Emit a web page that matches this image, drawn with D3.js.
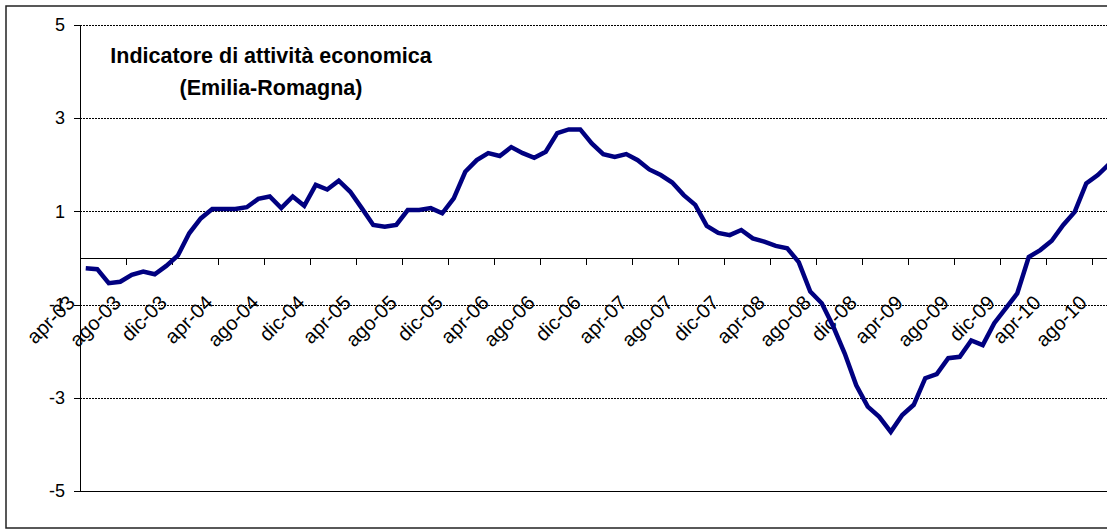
<!DOCTYPE html>
<html lang="it">
<head>
<meta charset="utf-8">
<title>Indicatore di attività economica</title>
<style>
body{
  margin: 0;
  background: #fff;
}
svg text{
  font-family: "Liberation Sans", Arial, sans-serif;
  fill: #000;
}
.grid line{
  stroke: #000;
  stroke-width: 1;
  stroke-dasharray: 2,1;
  shape-rendering: crispEdges;
}
.axis path, .axis line{
  fill: none;
  stroke: #000;
  shape-rendering: crispEdges;
}
</style>
</head>
<body>
<div id="chart"></div>
<script src="https://d3js.org/d3.v7.min.js"></script>
<script>

// monthly categories, apr-03 .. set-10
const categories = [
  "apr-03","mag-03","giu-03","lug-03","ago-03","set-03","ott-03","nov-03","dic-03",
  "gen-04","feb-04","mar-04","apr-04","mag-04","giu-04","lug-04","ago-04","set-04","ott-04","nov-04","dic-04",
  "gen-05","feb-05","mar-05","apr-05","mag-05","giu-05","lug-05","ago-05","set-05","ott-05","nov-05","dic-05",
  "gen-06","feb-06","mar-06","apr-06","mag-06","giu-06","lug-06","ago-06","set-06","ott-06","nov-06","dic-06",
  "gen-07","feb-07","mar-07","apr-07","mag-07","giu-07","lug-07","ago-07","set-07","ott-07","nov-07","dic-07",
  "gen-08","feb-08","mar-08","apr-08","mag-08","giu-08","lug-08","ago-08","set-08","ott-08","nov-08","dic-08",
  "gen-09","feb-09","mar-09","apr-09","mag-09","giu-09","lug-09","ago-09","set-09","ott-09","nov-09","dic-09",
  "gen-10","feb-10","mar-10","apr-10","mag-10","giu-10","lug-10","ago-10","set-10"
];

const values = [
  -0.22,-0.24,-0.54,-0.51,-0.36,-0.29,-0.35,-0.17,0.05,
  0.53,0.85,1.05,1.05,1.05,1.09,1.27,1.32,1.07,1.32,1.12,1.57,
  1.47,1.66,1.42,1.07,0.71,0.67,0.71,1.03,1.03,1.07,0.96,1.28,
  1.85,2.10,2.25,2.19,2.38,2.25,2.15,2.28,2.68,2.76,2.76,2.46,
  2.23,2.17,2.23,2.10,1.90,1.78,1.62,1.35,1.14,0.69,0.54,0.49,
  0.60,0.42,0.35,0.26,0.21,-0.09,-0.72,-0.97,-1.47,-2.05,-2.73,-3.19,
  -3.41,-3.73,-3.37,-3.15,-2.58,-2.49,-2.15,-2.12,-1.77,-1.87,-1.40,-1.08,
  -0.76,0.02,0.17,0.37,0.71,0.99,1.60,1.78,2.02
];

const yTicks = [-5, -3, -1, 1, 3, 5];
const gridTicks = [-3, -1, 1, 3, 5];
const tickCats = categories.filter((d, i) => i % 4 === 0);

const width = 1107;
const height = 529;
const plot = { left: 80, top: 25, bottom: 491, step: 11.5 };

const svg = d3.select('#chart')
  .append('svg')
  .attr('width', width)
  .attr('height', height);

// outer frame (runs off the right edge like the original)
svg.append('rect')
  .attr('x', 6)
  .attr('y', 6)
  .attr('width', 1200)
  .attr('height', 522)
  .attr('fill', 'none')
  .attr('stroke', '#222')
  .attr('stroke-width', 1.5);

const x = d3.scaleBand()
  .domain(categories)
  .range([plot.left, plot.left + categories.length * plot.step])
  .padding(0);

const y = d3.scaleLinear()
  .domain([-5, 5])
  .range([plot.bottom, plot.top]);

// gridlines
svg.append('g')
  .attr('class', 'grid')
  .selectAll('line')
  .data(gridTicks)
  .join('line')
  .attr('x1', plot.left)
  .attr('x2', width)
  .attr('y1', d => Math.round(y(d)) + 0.5)
  .attr('y2', d => Math.round(y(d)) + 0.5);

// bottom edge of plot at -5
svg.append('line')
  .attr('x1', plot.left)
  .attr('x2', width)
  .attr('y1', Math.round(y(-5)) + 0.5)
  .attr('y2', Math.round(y(-5)) + 0.5)
  .attr('stroke', '#000')
  .style('shape-rendering', 'crispEdges');

// y axis
const yAxis = svg.append('g')
  .attr('class', 'axis')
  .attr('transform', 'translate(' + plot.left + ',0)')
  .call(d3.axisLeft(y)
    .tickValues(yTicks)
    .tickSize(6)
    .tickSizeOuter(0)
    .tickPadding(9)
    .tickFormat(d => String(d)));
yAxis.selectAll('text')
  .style('font-size', '18px')
  .style('font-family', '"Liberation Sans", Arial, sans-serif');

// x axis at zero, ticks at category boundaries
const xAxis = svg.append('g').attr('class', 'axis');
xAxis.append('line')
  .attr('x1', plot.left)
  .attr('x2', width)
  .attr('y1', Math.round(y(0)) + 0.5)
  .attr('y2', Math.round(y(0)) + 0.5)
  .attr('stroke', '#333');

xAxis.selectAll('.tick')
  .data(tickCats)
  .join('line')
  .attr('class', 'tick')
  .attr('x1', d => Math.round(x(d)) + 0.5)
  .attr('x2', d => Math.round(x(d)) + 0.5)
  .attr('y1', y(0))
  .attr('y2', y(0) + 7);

xAxis.selectAll('.lbl')
  .data(tickCats)
  .join('text')
  .attr('class', 'lbl')
  .attr('text-anchor', 'end')
  .attr('transform', d => 'translate(' + (x(d) - 4) + ',' + (y(0) + 46) + ') rotate(-45)')
  .style('font-size', '20px')
  .text(d => d);

// series
const line = d3.line()
  .x((d, i) => x(categories[i]) + x.bandwidth() / 2)
  .y(d => y(d));

svg.append('path')
  .datum(values)
  .attr('fill', 'none')
  .attr('stroke', '#000080')
  .attr('stroke-width', 4.5)
  .attr('stroke-linejoin', 'miter')
  .attr('d', line);

// title
const title = svg.append('text')
  .attr('text-anchor', 'middle')
  .style('font-size', '21.5px')
  .style('font-weight', 'bold');
title.append('tspan')
  .attr('x', 271)
  .attr('y', 63)
  .text('Indicatore di attività economica');
title.append('tspan')
  .attr('x', 271)
  .attr('y', 95)
  .text('(Emilia-Romagna)');

</script>
</body>
</html>
